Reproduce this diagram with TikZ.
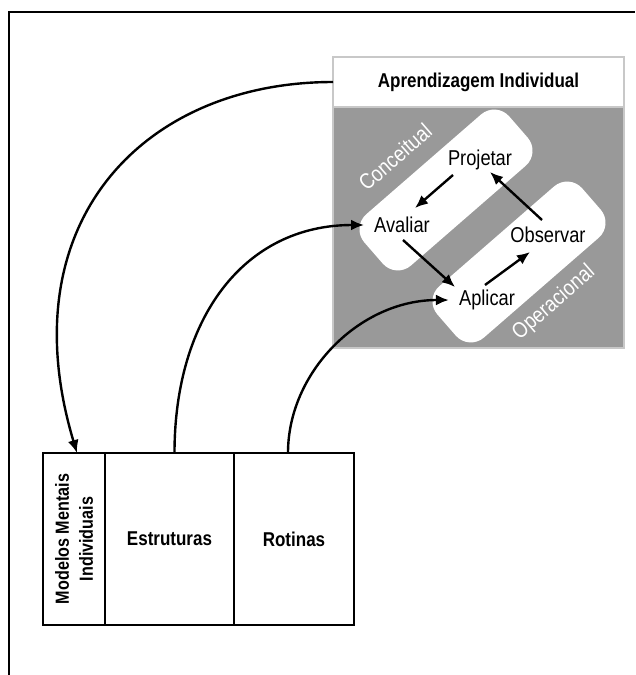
\documentclass[tikz,border=0pt]{standalone}
\usepackage{fontspec}
\setmainfont[FakeStretch=0.85]{Liberation Sans}
\usetikzlibrary{arrows.meta}
\definecolor{panelgray}{RGB}{153,153,153}
\definecolor{edgegray}{RGB}{200,200,200}
\begin{document}
\begin{tikzpicture}[x=1pt,y=-1pt,
  conn/.style={line width=2.4pt,-{Latex[length=13pt,width=11pt]}},
  lbl/.style={font=\fontsize{21.5}{24}\selectfont, inner sep=0pt},
  tag/.style={font=\fontsize{22}{24}\selectfont, text=white, rotate=41, inner sep=0pt},
  band/.style={fill=white, rounded corners=20pt, minimum width=192pt, minimum height=68pt, rotate=41, inner sep=0pt},
  cell/.style={draw, line width=2.2pt, anchor=north west, minimum height=172pt, inner sep=0pt, outer sep=0pt, font=\bfseries\fontsize{20}{24}\selectfont}
]
\useasboundingbox (0,0) rectangle (635,675);
% outer frame
\draw[line width=2.8pt] (9,675) -- (9,12) -- (635,12);

% panel
\node (panel) [draw=edgegray, fill=panelgray, line width=1.5pt, anchor=north west,
  minimum width=291pt, minimum height=291pt, inner sep=0pt, outer sep=0pt] at (333,57) {};
\node (header) [draw=edgegray, fill=white, line width=1.5pt, anchor=north west,
  minimum width=291pt, minimum height=50pt, inner sep=0pt, outer sep=0pt,
  font=\bfseries\fontsize{20}{24}\selectfont] at (333,57) {Aprendizagem Individual};

% bands
\node (conc) [band] at (446,190) {};
\node (oper) [band] at (519,262) {};
\node (conctag) [tag] at (395,157) {Conceitual};
\node (opertag) [tag] at (554,303) {Operacional};

% stage labels
\node (projetar) [lbl] at (480,160) {Projetar};
\node (avaliar) [lbl] at (402,225) {Avaliar};
\node (observar) [lbl] at (548,235) {Observar};
\node (aplicar) [lbl] at (487,300) {Aplicar};

% cycle arrows
\draw[conn] ([shift={(-27,15)}]projetar.center) -- ([shift={(13,-17)}]avaliar.center);
\draw[conn] ([shift={(-6,-15)}]observar.center) -- ([shift={(10,12)}]projetar.center);
\draw[conn] ([shift={(1,15)}]avaliar.center) -- ([shift={(-32,-13)}]aplicar.center);
\draw[conn] ([shift={(-2,-15)}]aplicar.center) -- ([shift={(-18,17)}]observar.center);

% bottom table
\node (mm) [cell, minimum width=62pt] at (43,453) {};
\node (est) [cell, minimum width=129pt] at (105,453) {Estruturas};
\node (rot) [cell, minimum width=120pt] at (234,453) {Rotinas};
\node (mmtext) [rotate=90, align=center, inner sep=0pt, font=\bfseries\fontsize{19}{24}\selectfont] at (mm.center) {Modelos Mentais\\Individuais};

% long connectors
\draw[conn] (header.west) .. controls +(-190,0) and +(-69,-230) .. ([xshift=3pt]mm.north);
\draw[conn] ([xshift=5pt]est.north) .. controls +(0,-135) and +(-120,0) .. ([xshift=-10pt]avaliar.west);
\draw[conn] ([xshift=-6pt]rot.north) .. controls +(0,-81) and +(-89,0) .. ([xshift=-10pt]aplicar.west);
\end{tikzpicture}
\end{document}
